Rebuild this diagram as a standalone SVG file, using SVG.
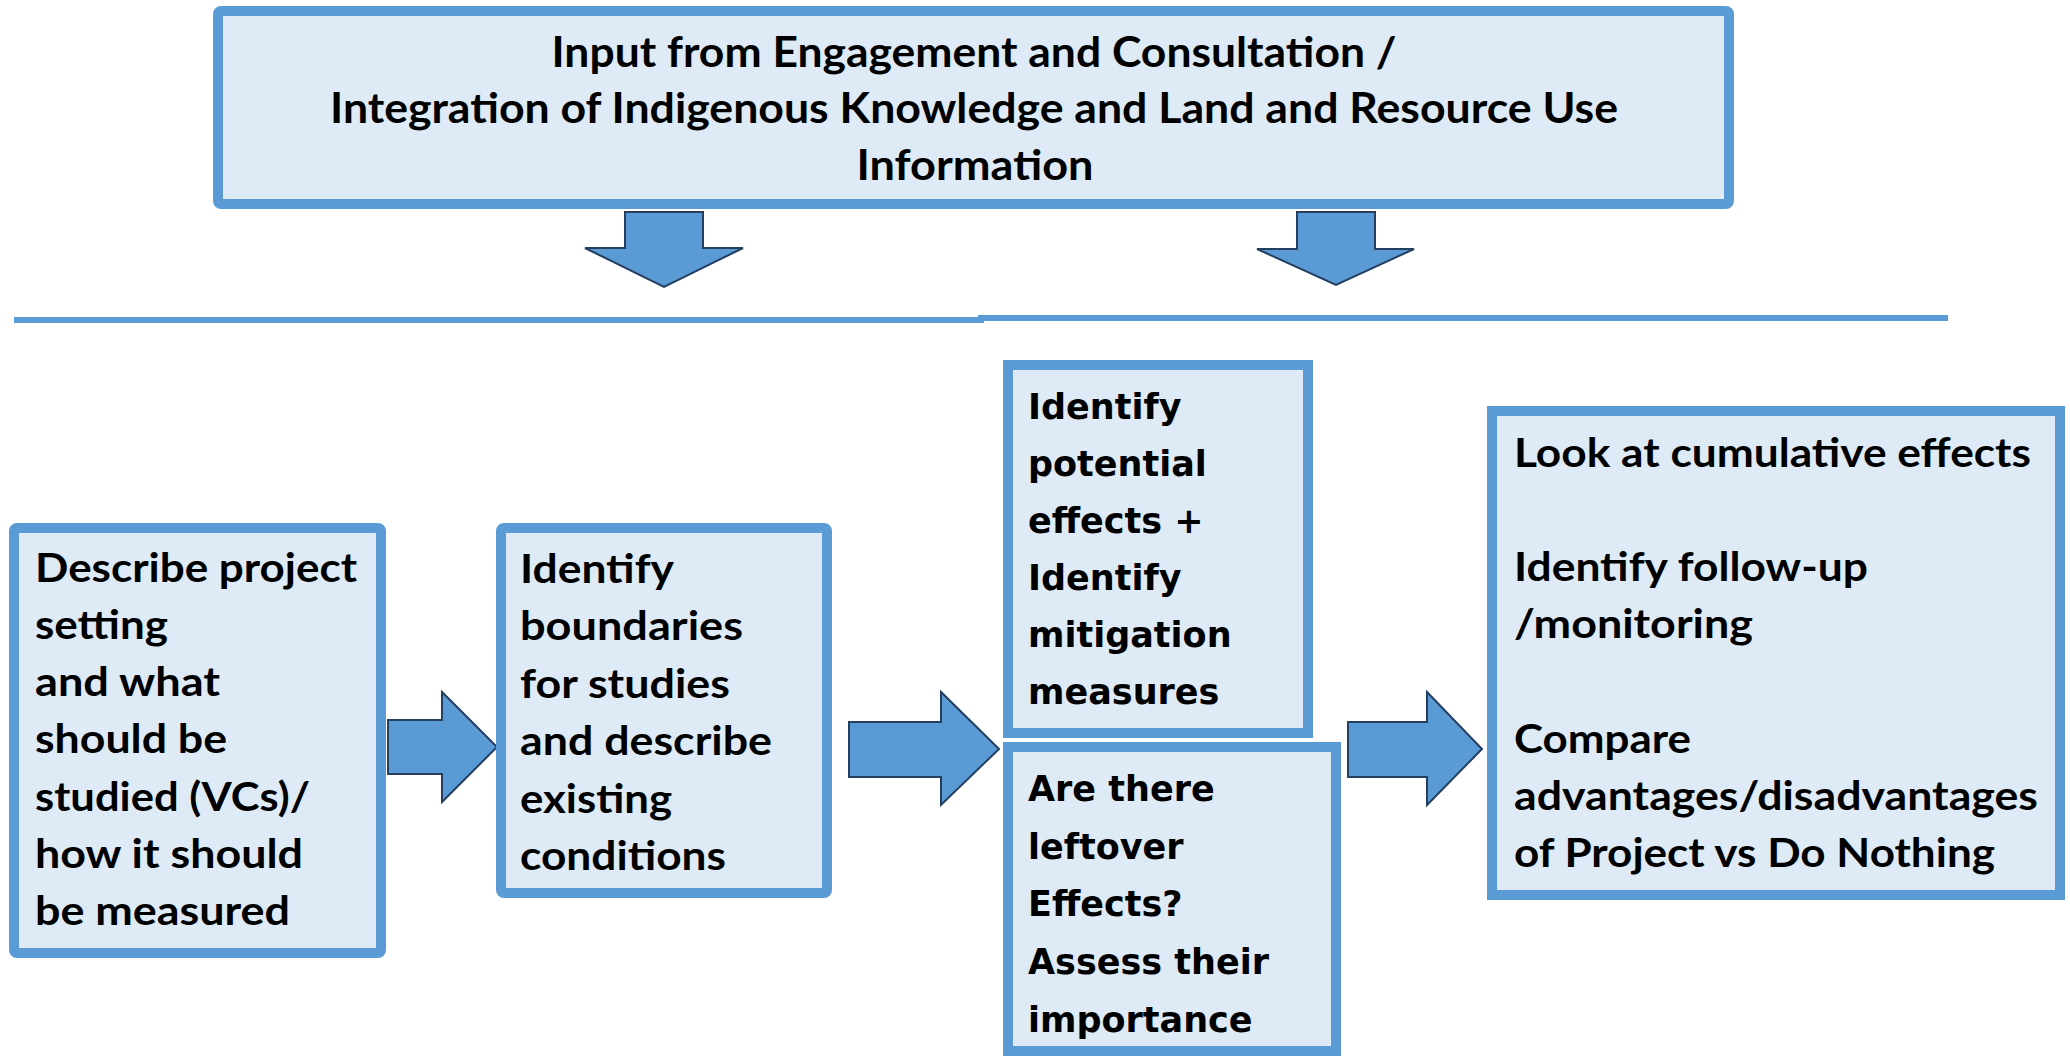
<svg xmlns="http://www.w3.org/2000/svg" width="2070" height="1058" viewBox="0 0 2070 1058">
<style>
.box{fill:#DEEBF7;stroke:#5B9BD5;stroke-width:10;}
.cal{font-family:Lato,"Open Sans","Liberation Sans",sans-serif;font-weight:bold;font-size:41px;fill:#000;}
.top{font-size:42.5px;}
.ver{font-family:"DejaVu Sans",Verdana,sans-serif;font-weight:bold;font-size:35px;fill:#000;}
.arr{fill:#5B9BD5;stroke:#243F60;stroke-width:2;stroke-linejoin:miter;}
.rule{stroke:#5B9BD5;stroke-width:6;}
</style>
<rect width="2070" height="1058" fill="#fff"/>
<g id="rules">
<line class="rule" x1="14" y1="320" x2="984" y2="320"/>
<line class="rule" x1="978" y1="318" x2="1948" y2="318"/>
</g>
<g id="connectors">
<path class="arr" d="M625,212 L703,212 L703,248 L743,248 L664,287 L585,248 L625,248 Z"/>
<path class="arr" d="M1297,212 L1375,212 L1375,249 L1414,249 L1336,285 L1257,249 L1297,249 Z"/>
<path class="arr" d="M388,720 L442,720 L442,692 L497,747 L442,802 L442,774 L388,774 Z"/>
<path class="arr" d="M849,722 L941,722 L941,692 L999,749 L941,805 L941,777 L849,777 Z"/>
<path class="arr" d="M1348,722 L1427,722 L1427,692 L1482,749 L1427,805 L1427,777 L1348,777 Z"/>
</g>
<g id="node-input">
<rect class="box" x="218" y="11" width="1511" height="193" rx="3"/>
<text class="cal top" x="974" y="67" text-anchor="middle" textLength="845" lengthAdjust="spacingAndGlyphs">Input from Engagement and Consultation /</text>
<text class="cal top" x="974" y="123" text-anchor="middle" textLength="1288" lengthAdjust="spacingAndGlyphs">Integration of Indigenous Knowledge and Land and Resource Use</text>
<text class="cal top" x="975" y="180" text-anchor="middle" textLength="237" lengthAdjust="spacingAndGlyphs">Information</text>
</g>
<g id="node-describe">
<rect class="box" x="14" y="528" width="367" height="425" rx="3"/>
<text class="cal" x="35" y="582" textLength="322" lengthAdjust="spacingAndGlyphs">Describe project</text>
<text class="cal" x="35" y="639" textLength="133" lengthAdjust="spacingAndGlyphs">setting</text>
<text class="cal" x="35" y="696" textLength="185" lengthAdjust="spacingAndGlyphs">and what</text>
<text class="cal" x="35" y="753" textLength="192" lengthAdjust="spacingAndGlyphs">should be</text>
<text class="cal" x="35" y="811" textLength="275" lengthAdjust="spacingAndGlyphs">studied (VCs)/</text>
<text class="cal" x="35" y="868" textLength="268" lengthAdjust="spacingAndGlyphs">how it should</text>
<text class="cal" x="35" y="925" textLength="255" lengthAdjust="spacingAndGlyphs">be measured</text>
</g>
<g id="node-boundaries">
<rect class="box" x="501" y="528" width="326" height="365" rx="3"/>
<text class="cal" x="520" y="583" textLength="154" lengthAdjust="spacingAndGlyphs">Identify</text>
<text class="cal" x="520" y="640" textLength="223" lengthAdjust="spacingAndGlyphs">boundaries</text>
<text class="cal" x="520" y="698" textLength="210" lengthAdjust="spacingAndGlyphs">for studies</text>
<text class="cal" x="520" y="755" textLength="252" lengthAdjust="spacingAndGlyphs">and describe</text>
<text class="cal" x="520" y="813" textLength="152" lengthAdjust="spacingAndGlyphs">existing</text>
<text class="cal" x="520" y="870" textLength="206" lengthAdjust="spacingAndGlyphs">conditions</text>
</g>
<g id="node-effects">
<rect class="box" x="1008" y="365" width="300" height="368"/>
<text class="ver" x="1028" y="419">Identify</text>
<text class="ver" x="1028" y="476">potential</text>
<text class="ver" x="1028" y="533">effects +</text>
<text class="ver" x="1028" y="590">Identify</text>
<text class="ver" x="1028" y="647">mitigation</text>
<text class="ver" x="1028" y="704">measures</text>
</g>
<g id="node-leftover">
<rect class="box" x="1008" y="747" width="328" height="304"/>
<text class="ver" x="1028" y="801">Are there</text>
<text class="ver" x="1028" y="859">leftover</text>
<text class="ver" x="1028" y="916">Effects?</text>
<text class="ver" x="1028" y="974">Assess their</text>
<text class="ver" x="1028" y="1032">importance</text>
</g>
<g id="node-cumulative">
<rect class="box" x="1492" y="411" width="568" height="484"/>
<text class="cal" x="1514" y="467" textLength="517" lengthAdjust="spacingAndGlyphs">Look at cumulative effects</text>
<text class="cal" x="1514" y="581" textLength="354" lengthAdjust="spacingAndGlyphs">Identify follow-up</text>
<text class="cal" x="1514" y="638" textLength="239" lengthAdjust="spacingAndGlyphs">/monitoring</text>
<text class="cal" x="1514" y="753" textLength="177" lengthAdjust="spacingAndGlyphs">Compare</text>
<text class="cal" x="1514" y="810" textLength="524" lengthAdjust="spacingAndGlyphs">advantages/disadvantages</text>
<text class="cal" x="1514" y="867" textLength="481" lengthAdjust="spacingAndGlyphs">of Project vs Do Nothing</text>
</g>
</svg>
